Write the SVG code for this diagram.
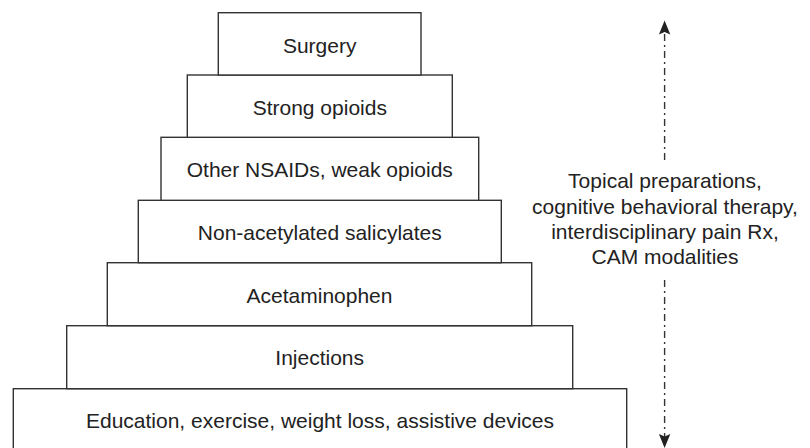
<svg xmlns="http://www.w3.org/2000/svg" width="810" height="448" viewBox="0 0 810 448">
<style>
.box rect{fill:#fff;stroke:#333;stroke-width:1.4}
text{font-family:"Liberation Sans",Arial,sans-serif;font-size:21px;fill:#222;text-anchor:middle}
.conn{stroke:#333;stroke-width:1.4;fill:none;stroke-dasharray:7 4 2 4}
.head{fill:#222}
</style>
<rect width="810" height="448" fill="#fff"/>
<g id="n7" class="box"><rect x="13.3" y="388.7" width="613.4" height="62.5"/><text x="320" y="427.5">Education, exercise, weight loss, assistive devices</text></g>
<g id="n6" class="box"><rect x="66.7" y="325.7" width="506" height="63"/><text x="319.7" y="365">Injections</text></g>
<g id="n5" class="box"><rect x="107.3" y="262.7" width="424.4" height="63"/><text x="319.5" y="302.5">Acetaminophen</text></g>
<g id="n4" class="box"><rect x="138.3" y="200.3" width="363" height="62.4"/><text x="319.8" y="240">Non-acetylated salicylates</text></g>
<g id="n3" class="box"><rect x="161" y="137.3" width="317.7" height="63"/><text x="319.8" y="176.7">Other NSAIDs, weak opioids</text></g>
<g id="n2" class="box"><rect x="187.3" y="75" width="265" height="62.3"/><text x="319.8" y="114.5">Strong opioids</text></g>
<g id="n1" class="box"><rect x="218.3" y="12.7" width="202.7" height="62.3"/><text x="319.7" y="53">Surgery</text></g>
<g id="side"><text x="665" y="188.3">Topical preparations,</text><text x="665" y="213.5">cognitive behavioral therapy,</text><text x="665" y="238.8">interdisciplinary pain Rx,</text><text x="665" y="264">CAM modalities</text></g>
<g id="connectors">
<line class="conn" x1="664.6" y1="34" x2="664.6" y2="164"/>
<line class="conn" x1="664.6" y1="280" x2="664.6" y2="437"/>
<path class="head" d="M664.6 20.5 L670.3 34.5 L664.6 32 L658.9 34.5 Z"/>
<path class="head" d="M664.6 448 L670.3 434 L664.6 436.5 L658.9 434 Z"/>
</g>
</svg>
